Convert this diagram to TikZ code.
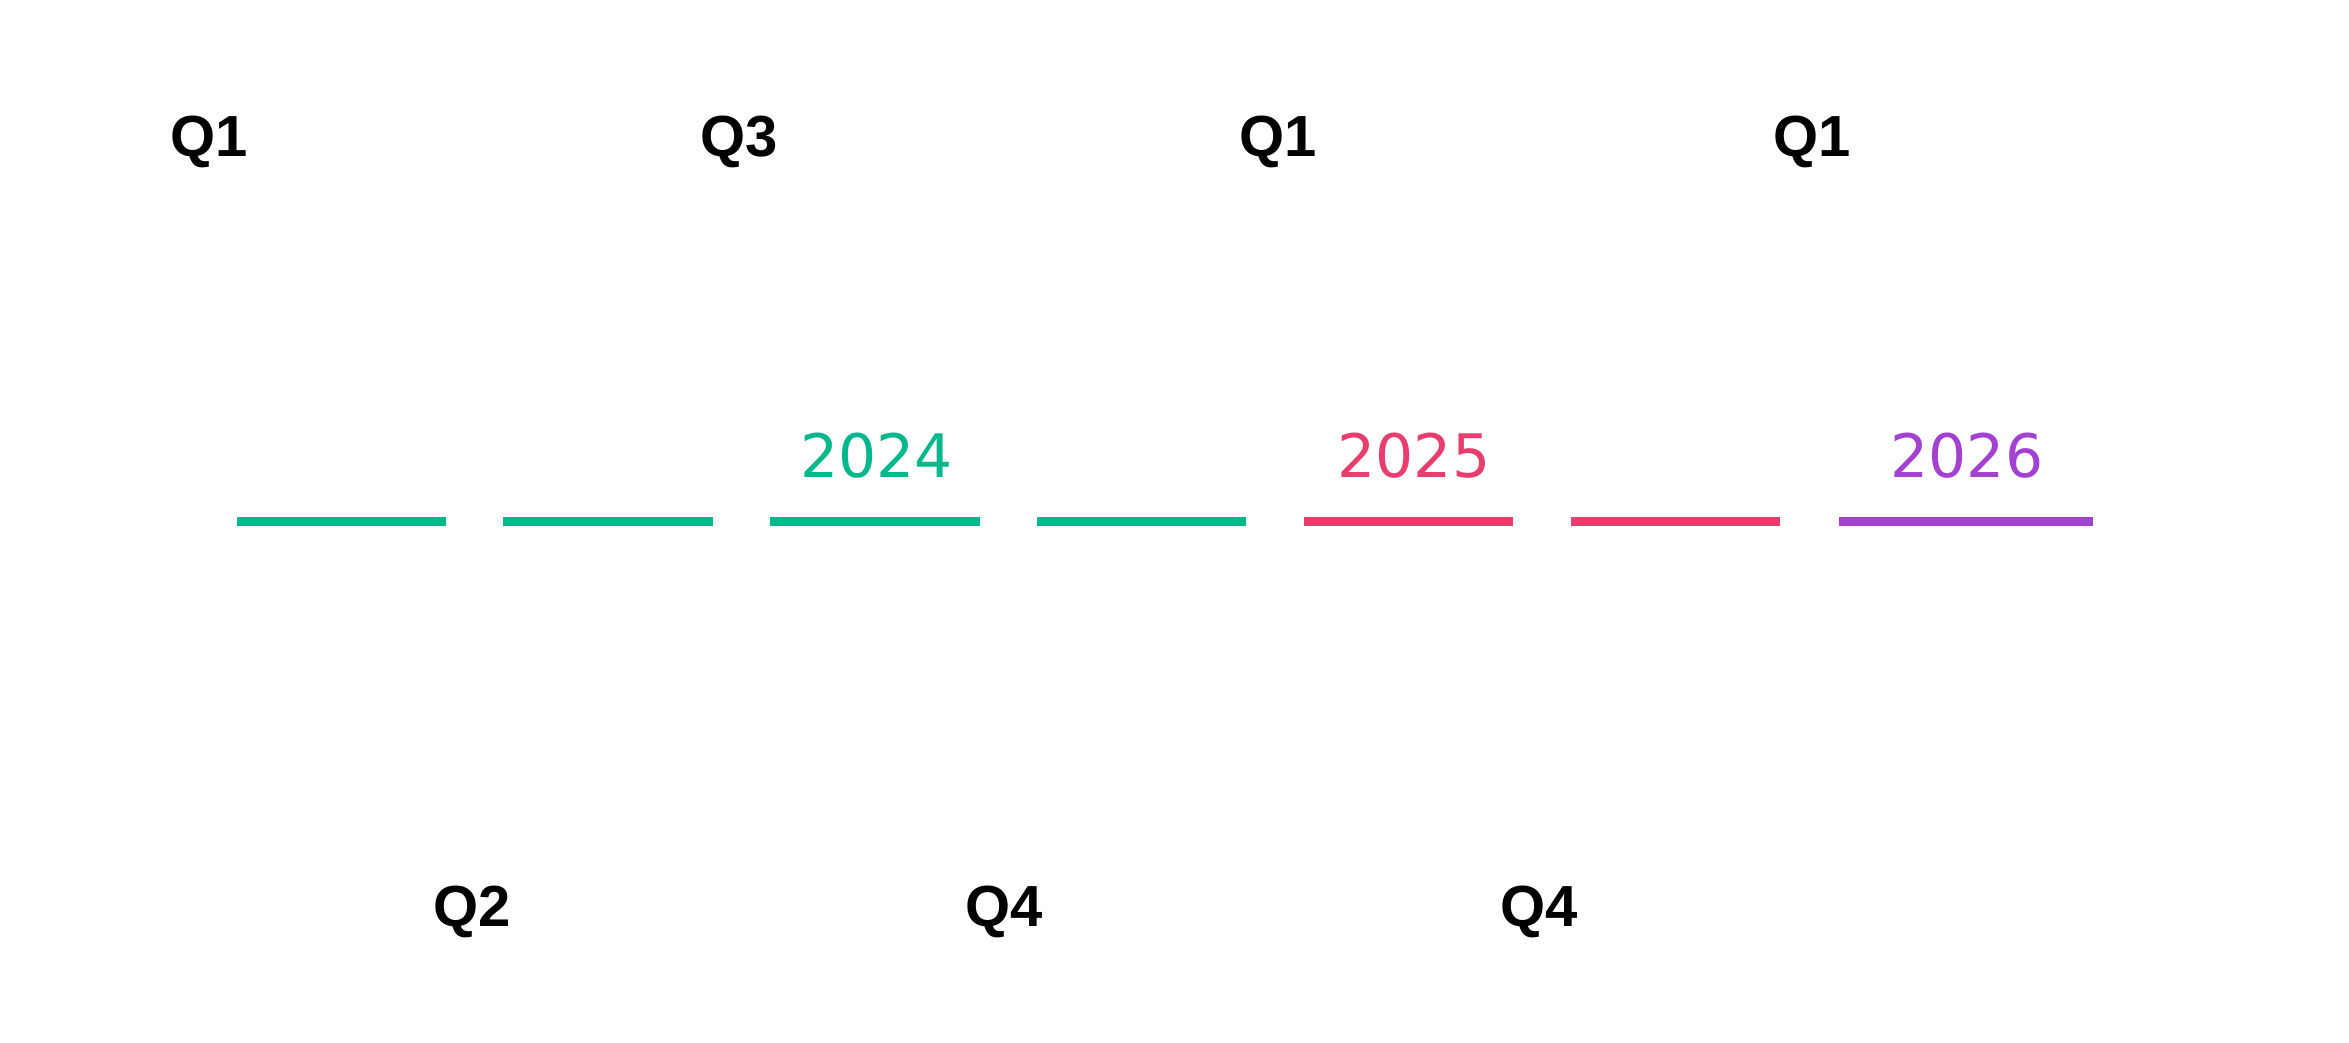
\documentclass[tikz,border=0pt]{standalone}
\usepackage{fontspec}
\setmainfont{Liberation Sans}
\newfontfamily\yearfont{DejaVu Sans}
\definecolor{yrgreen}{RGB}{0,184,140}
\definecolor{yrpink}{RGB}{232,62,110}
\definecolor{yrpurple}{RGB}{163,65,209}
\begin{document}
\begin{tikzpicture}[x=1pt,y=-1pt,
  quarter/.style={anchor=base west,inner sep=0pt,font=\fontsize{58}{58}\selectfont\bfseries,text=black},
  yearlbl/.style={anchor=base,inner sep=0pt,font=\yearfont\fontsize{60}{60}\selectfont},
  bar/.style={line width=9pt,line cap=butt}]
\fill[white] (0,0) rectangle (2349,1042);
\useasboundingbox (0,0) rectangle (2349,1042);

% quarter markers, alternating above and below the bar
\node[quarter] (qa) at (170,156) {Q1};
\node[quarter] (qb) at (433,926) {Q2};
\node[quarter] (qc) at (700,156) {Q3};
\node[quarter] (qd) at (965,926) {Q4};
\node[quarter] (qe) at (1239,156) {Q1};
\node[quarter] (qf) at (1500,926) {Q4};
\node[quarter] (qg) at (1773,156) {Q1};

% timeline bar segments
\draw[bar,yrgreen] (237,521.5) -- (446,521.5);
\draw[bar,yrgreen] (503,521.5) -- (713,521.5);
\draw[bar,yrgreen] (770,521.5) -- (980,521.5);
\draw[bar,yrgreen] (1037,521.5) -- (1246,521.5);
\draw[bar,yrpink] (1304,521.5) -- (1513,521.5);
\draw[bar,yrpink] (1571,521.5) -- (1780,521.5);
\draw[bar,yrpurple] (1839,521.5) -- (2093,521.5);

% year labels
\node[yearlbl,text=yrgreen] (y24) at (876.5,477) {2024};
\node[yearlbl,text=yrpink] (y25) at (1414,477) {2025};
\node[yearlbl,text=yrpurple] (y26) at (1967,477) {2026};
\end{tikzpicture}
\end{document}
